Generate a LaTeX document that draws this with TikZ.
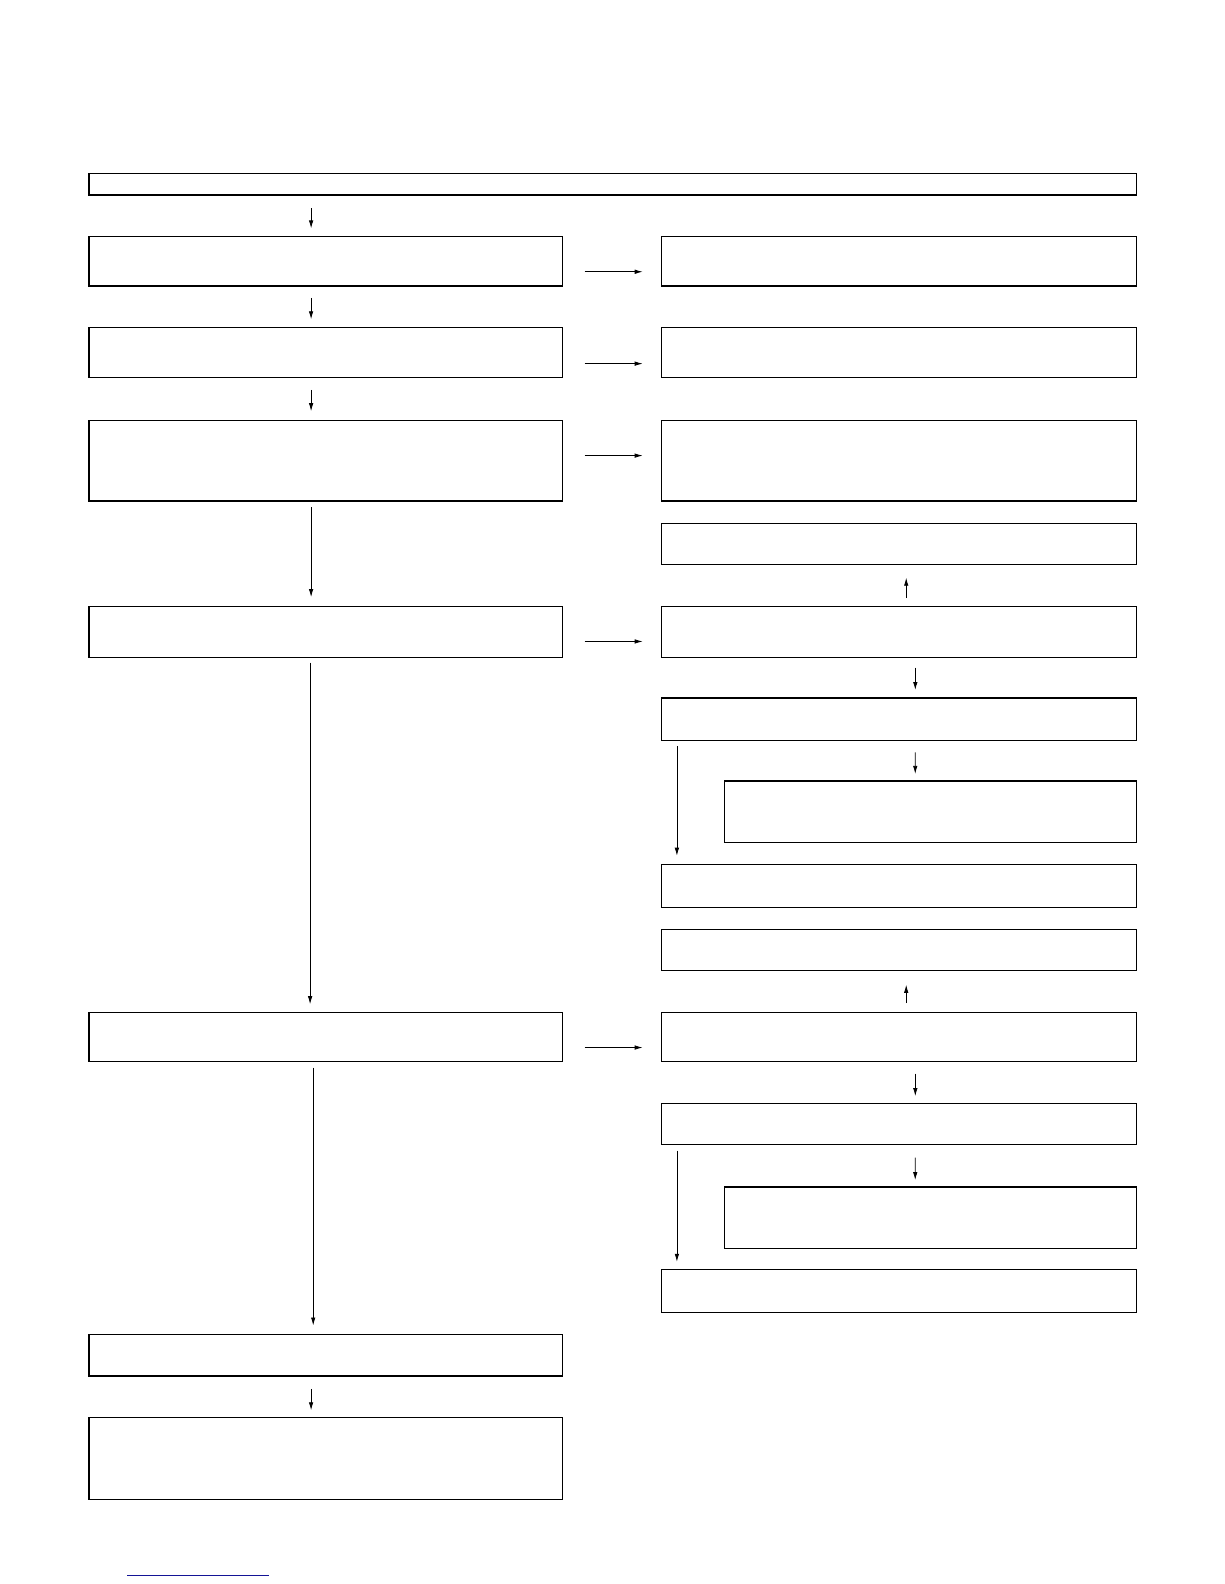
\documentclass[tikz,border=0pt]{standalone}
\usetikzlibrary{arrows.meta}
\definecolor{linkblue}{RGB}{20,20,150}
\begin{document}
\begin{tikzpicture}[x=1pt,y=-1pt,
  box/.style={draw, line width=1.2pt, inner sep=0pt, outer sep=0pt, anchor=north west},
  lbox/.style={box, minimum width=473.8pt},
  rbox/.style={box, minimum width=474.8pt},
  sbox/.style={box, minimum width=412.2pt},
  arr/.style={line width=0.8pt, -{Latex[length=8pt,width=4.5pt]}}]
\useasboundingbox (0,0) rectangle (1224,1584);
% top
\node[box, minimum width=1047.6pt, minimum height=21.5pt] (top) at (88.9,173.5) {};
% left column
\node[lbox, minimum height=49.5pt] (L1) at (88.9,236.4) {};
\node[lbox, minimum height=50.5pt] (L2) at (88.9,327.3) {};
\node[lbox, minimum height=80.8pt] (L3) at (88.9,420.2) {};
\node[lbox, minimum height=51.5pt] (L4) at (88.9,606.1) {};
\node[lbox, minimum height=49.5pt] (L5) at (88.9,1012.2) {};
\node[lbox, minimum height=41.4pt] (L6) at (88.9,1334.5) {};
\node[lbox, minimum height=81.8pt] (L7) at (88.9,1417.3) {};
% right column
\node[rbox, minimum height=49.5pt] (R1) at (661.7,236.4) {};
\node[rbox, minimum height=50.5pt] (R2) at (661.7,327.3) {};
\node[rbox, minimum height=80.8pt] (R3) at (661.7,420.2) {};
\node[rbox, minimum height=41.4pt] (R4) at (661.7,523.3) {};
\node[rbox, minimum height=51.5pt] (R5) at (661.7,606.1) {};
\node[rbox, minimum height=42.4pt] (R6) at (661.7,698.0) {};
\node[sbox, minimum height=61.6pt] (R7) at (724.3,780.9) {};
\node[rbox, minimum height=42.4pt] (R8) at (661.7,864.7) {};
\node[rbox, minimum height=41.4pt] (R9) at (661.7,929.4) {};
\node[rbox, minimum height=49.5pt] (R10) at (661.7,1012.2) {};
\node[rbox, minimum height=41.4pt] (R11) at (661.7,1103.1) {};
\node[sbox, minimum height=61.6pt] (R12) at (724.3,1187.0) {};
\node[rbox, minimum height=42.4pt] (R13) at (661.7,1269.8) {};
% left vertical arrows
\draw[arr, shorten <=13pt, shorten >=8pt] ([xshift=222.2pt]top.south west) -- ([xshift=222.2pt]L1.north west);
\draw[arr, shorten <=12pt, shorten >=8pt] ([xshift=222.2pt]L1.south west) -- ([xshift=222.2pt]L2.north west);
\draw[arr, shorten <=12pt, shorten >=9pt] ([xshift=222.2pt]L2.south west) -- ([xshift=222.2pt]L3.north west);
\draw[arr, shorten <=6pt, shorten >=9pt] ([xshift=222.2pt]L3.south west) -- ([xshift=222.2pt]L4.north west);
\draw[arr, shorten <=5pt, shorten >=8pt] ([xshift=221.2pt]L4.south west) -- ([xshift=221.2pt]L5.north west);
\draw[arr, shorten <=6pt, shorten >=9pt] ([xshift=224.3pt]L5.south west) -- ([xshift=224.3pt]L6.north west);
\draw[arr, shorten <=13pt, shorten >=7pt] ([xshift=222.2pt]L6.south west) -- ([xshift=222.2pt]L7.north west);
% horizontal arrows
\draw[arr, shorten <=22pt, shorten >=19pt] ([yshift=-10.6pt]L1.east) -- ([yshift=-10.6pt]R1.west);
\draw[arr, shorten <=22pt, shorten >=19pt] ([yshift=-11.1pt]L2.east) -- ([yshift=-11.1pt]R2.west);
\draw[arr, shorten <=22pt, shorten >=19pt] ([yshift=5pt]L3.east) -- ([yshift=5pt]R3.west);
\draw[arr, shorten <=22pt, shorten >=19pt] ([yshift=-9.6pt]L4.east) -- ([yshift=-9.6pt]R5.west);
\draw[arr, shorten <=22pt, shorten >=19pt] ([yshift=-10.6pt]L5.east) -- ([yshift=-10.6pt]R10.west);
% right column arrows
\draw[arr, shorten <=8pt, shorten >=13pt] ([xshift=244.5pt]R5.north west) -- ([xshift=244.5pt]R4.south west);
\draw[arr, shorten <=10pt, shorten >=8pt] ([xshift=253.6pt]R5.south west) -- ([xshift=253.6pt]R6.north west);
\draw[arr, shorten <=12pt, shorten >=7pt] ([xshift=253.6pt]R6.south west) -- ([xshift=190.9pt]R7.north west);
\draw[arr, shorten <=6pt, shorten >=9pt] ([xshift=15.2pt]R6.south west) -- ([xshift=15.2pt]R8.north west);
\draw[arr, shorten <=9pt, shorten >=14pt] ([xshift=244.5pt]R10.north west) -- ([xshift=244.5pt]R9.south west);
\draw[arr, shorten <=12pt, shorten >=7pt] ([xshift=253.6pt]R10.south west) -- ([xshift=253.6pt]R11.north west);
\draw[arr, shorten <=13pt, shorten >=7pt] ([xshift=253.6pt]R11.south west) -- ([xshift=190.9pt]R12.north west);
\draw[arr, shorten <=6pt, shorten >=8pt] ([xshift=15.2pt]R11.south west) -- ([xshift=15.2pt]R13.north west);
% blue underline
\draw[linkblue, line width=1pt] (127,1575) -- (269,1575);
\end{tikzpicture}
\end{document}
